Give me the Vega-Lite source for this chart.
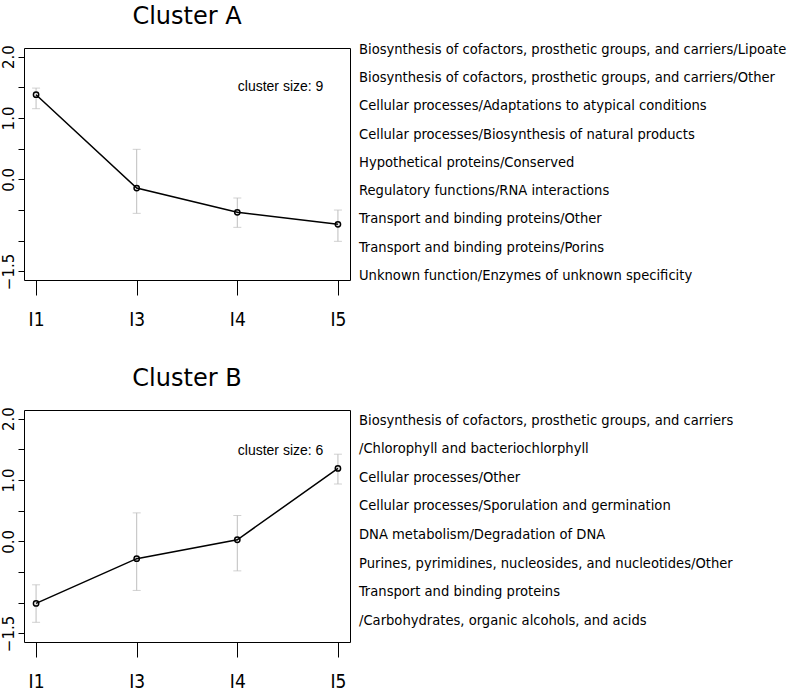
{
  "$schema": "https://vega.github.io/schema/vega-lite/v6.json",
  "background": "white",
  "padding": {"left": 0, "top": 4, "right": 0, "bottom": 0},
  "config": {
    "view": {"stroke": "black", "strokeWidth": 1},
    "font": "DejaVu Sans"
  },
  "datasets": {
    "series": [
      {"cluster": "A", "cond": "I1", "idx": 1, "mean": 1.379, "lo": 1.151, "hi": 1.487},
      {"cluster": "A", "cond": "I3", "idx": 2, "mean": -0.142, "lo": -0.554, "hi": 0.489},
      {"cluster": "A", "cond": "I4", "idx": 3, "mean": -0.537, "lo": -0.782, "hi": -0.304},
      {"cluster": "A", "cond": "I5", "idx": 4, "mean": -0.733, "lo": -1.01, "hi": -0.5},
      {"cluster": "B", "cond": "I1", "idx": 1, "mean": -1.011, "lo": -1.319, "hi": -0.708},
      {"cluster": "B", "cond": "I3", "idx": 2, "mean": -0.282, "lo": -0.8, "hi": 0.464},
      {"cluster": "B", "cond": "I4", "idx": 3, "mean": 0.026, "lo": -0.481, "hi": 0.421},
      {"cluster": "B", "cond": "I5", "idx": 4, "mean": 1.188, "lo": 0.934, "hi": 1.42}
    ],
    "notes": [
      {"cluster": "A", "label": "cluster size: 9", "x": 3.43, "y": 1.51},
      {"cluster": "B", "label": "cluster size: 6", "x": 3.43, "y": 1.47}
    ],
    "labels": [
      {"cluster": "A", "line": 0, "col": 0, "text": "Biosynthesis of cofactors, prosthetic groups, and carriers/Lipoate"},
      {"cluster": "A", "line": 1, "col": 0, "text": "Biosynthesis of cofactors, prosthetic groups, and carriers/Other"},
      {"cluster": "A", "line": 2, "col": 0, "text": "Cellular processes/Adaptations to atypical conditions"},
      {"cluster": "A", "line": 3, "col": 0, "text": "Cellular processes/Biosynthesis of natural products"},
      {"cluster": "A", "line": 4, "col": 0, "text": "Hypothetical proteins/Conserved"},
      {"cluster": "A", "line": 5, "col": 0, "text": "Regulatory functions/RNA interactions"},
      {"cluster": "A", "line": 6, "col": 0, "text": "Transport and binding proteins/Other"},
      {"cluster": "A", "line": 7, "col": 0, "text": "Transport and binding proteins/Porins"},
      {"cluster": "A", "line": 8, "col": 0, "text": "Unknown function/Enzymes of unknown specificity"},
      {"cluster": "B", "line": 0, "col": 0, "text": "Biosynthesis of cofactors, prosthetic groups, and carriers"},
      {"cluster": "B", "line": 1, "col": 0, "text": "/Chlorophyll and bacteriochlorphyll"},
      {"cluster": "B", "line": 2, "col": 0, "text": "Cellular processes/Other"},
      {"cluster": "B", "line": 3, "col": 0, "text": "Cellular processes/Sporulation and germination"},
      {"cluster": "B", "line": 4, "col": 0, "text": "DNA metabolism/Degradation of DNA"},
      {"cluster": "B", "line": 5, "col": 0, "text": "Purines, pyrimidines, nucleosides, and nucleotides/Other"},
      {"cluster": "B", "line": 6, "col": 0, "text": "Transport and binding proteins"},
      {"cluster": "B", "line": 7, "col": 0, "text": "/Carbohydrates, organic alcohols, and acids"}
    ]
  },
  "spacing": 36,
  "vconcat": [
    {
      "spacing": 8,
      "hconcat": [
        {
          "width": 326,
          "height": 232,
          "title": {"text": "Cluster A", "fontSize": 24, "fontWeight": "normal", "font": "DejaVu Sans", "offset": 16, "anchor": "middle", "color": "black"},
          "layer": [
            {
              "data": {"name": "series"},
              "transform": [{"filter": "datum.cluster == 'A'"}],
              "mark": {"type": "errorbar", "color": "#bebebe", "thickness": 1, "ticks": {"size": 8}},
              "encoding": {
                "x": {"field": "idx", "type": "quantitative", "scale": {"domain": [0.88, 4.12], "nice": false, "zero": false},
                  "axis": {"values": [1, 2, 3, 4], "tickCount": 20, "labelExpr": "['I1','I3','I4','I5'][datum.value-1]", "title": null, "domain": false, "grid": false, "tickSize": 15, "tickColor": "black", "labelPadding": 15, "labelFont": "Liberation Sans Narrow, DejaVu Sans Condensed", "labelFontSize": 19, "labelColor": "black", "labelBaseline": "top"}},
                "y": {"field": "lo", "type": "quantitative", "scale": {"domain": [-1.64, 2.14], "nice": false, "zero": false},
                  "axis": {"values": [-1.5, -1, -0.5, 0, 0.5, 1, 1.5, 2], "tickCount": 20, "labelExpr": "datum.value == 2 ? '2.0' : datum.value == 1 ? '1.0' : datum.value == 0 ? '0.0' : datum.value == -1.5 ? '\u22121.5' : ''", "title": null, "domain": false, "grid": false, "tickSize": 6, "tickColor": "black", "labelAngle": 270, "labelAlign": "center", "labelBaseline": "bottom", "labelPadding": 2, "labelFont": "DejaVu Sans", "labelFontSize": 15, "labelColor": "black", "labelOverlap": false, "labelFlush": false}},
                "y2": {"field": "hi"}
              }
            },
            {
              "data": {"name": "series"},
              "transform": [{"filter": "datum.cluster == 'A'"}],
              "mark": {"type": "line", "color": "black", "strokeWidth": 1.5},
              "encoding": {
                "x": {"field": "idx", "type": "quantitative"},
                "y": {"field": "mean", "type": "quantitative"}
              }
            },
            {
              "data": {"name": "series"},
              "transform": [{"filter": "datum.cluster == 'A'"}],
              "mark": {"type": "point", "shape": "circle", "filled": false, "color": "black", "size": 28, "strokeWidth": 1.5, "opacity": 1},
              "encoding": {
                "x": {"field": "idx", "type": "quantitative"},
                "y": {"field": "mean", "type": "quantitative"}
              }
            },
            {
              "data": {"name": "notes"},
              "transform": [{"filter": "datum.cluster == 'A'"}],
              "mark": {"type": "text", "font": "Liberation Sans", "fontSize": 14, "color": "black"},
              "encoding": {
                "x": {"field": "x", "type": "quantitative"},
                "y": {"field": "y", "type": "quantitative"},
                "text": {"field": "label"}
              }
            }
          ]
        },
        {
          "width": 420,
          "height": 232,
          "view": {"stroke": null},
          "data": {"name": "labels"},
          "transform": [{"filter": "datum.cluster == 'A'"}],
          "mark": {"type": "text", "align": "left", "baseline": "alphabetic", "font": "DejaVu Sans Condensed", "fontSize": 14.6, "color": "black"},
          "encoding": {
            "x": {"field": "col", "type": "quantitative", "scale": {"domain": [0, 1]}, "axis": null},
            "y": {"field": "line", "type": "quantitative", "scale": {"domain": [-0.212, 8.0], "reverse": true, "nice": false, "zero": false}, "axis": null},
            "text": {"field": "text"}
          }
        }
      ]
    },
    {
      "spacing": 8,
      "hconcat": [
        {
          "width": 326,
          "height": 232,
          "title": {"text": "Cluster B", "fontSize": 24, "fontWeight": "normal", "font": "DejaVu Sans", "offset": 16, "anchor": "middle", "color": "black"},
          "layer": [
            {
              "data": {"name": "series"},
              "transform": [{"filter": "datum.cluster == 'B'"}],
              "mark": {"type": "errorbar", "color": "#bebebe", "thickness": 1, "ticks": {"size": 8}},
              "encoding": {
                "x": {"field": "idx", "type": "quantitative", "scale": {"domain": [0.88, 4.12], "nice": false, "zero": false},
                  "axis": {"values": [1, 2, 3, 4], "tickCount": 20, "labelExpr": "['I1','I3','I4','I5'][datum.value-1]", "title": null, "domain": false, "grid": false, "tickSize": 15, "tickColor": "black", "labelPadding": 15, "labelFont": "Liberation Sans Narrow, DejaVu Sans Condensed", "labelFontSize": 19, "labelColor": "black", "labelBaseline": "top"}},
                "y": {"field": "lo", "type": "quantitative", "scale": {"domain": [-1.64, 2.14], "nice": false, "zero": false},
                  "axis": {"values": [-1.5, -1, -0.5, 0, 0.5, 1, 1.5, 2], "tickCount": 20, "labelExpr": "datum.value == 2 ? '2.0' : datum.value == 1 ? '1.0' : datum.value == 0 ? '0.0' : datum.value == -1.5 ? '\u22121.5' : ''", "title": null, "domain": false, "grid": false, "tickSize": 6, "tickColor": "black", "labelAngle": 270, "labelAlign": "center", "labelBaseline": "bottom", "labelPadding": 2, "labelFont": "DejaVu Sans", "labelFontSize": 15, "labelColor": "black", "labelOverlap": false, "labelFlush": false}},
                "y2": {"field": "hi"}
              }
            },
            {
              "data": {"name": "series"},
              "transform": [{"filter": "datum.cluster == 'B'"}],
              "mark": {"type": "line", "color": "black", "strokeWidth": 1.5},
              "encoding": {
                "x": {"field": "idx", "type": "quantitative"},
                "y": {"field": "mean", "type": "quantitative"}
              }
            },
            {
              "data": {"name": "series"},
              "transform": [{"filter": "datum.cluster == 'B'"}],
              "mark": {"type": "point", "shape": "circle", "filled": false, "color": "black", "size": 28, "strokeWidth": 1.5, "opacity": 1},
              "encoding": {
                "x": {"field": "idx", "type": "quantitative"},
                "y": {"field": "mean", "type": "quantitative"}
              }
            },
            {
              "data": {"name": "notes"},
              "transform": [{"filter": "datum.cluster == 'B'"}],
              "mark": {"type": "text", "font": "Liberation Sans", "fontSize": 14, "color": "black"},
              "encoding": {
                "x": {"field": "x", "type": "quantitative"},
                "y": {"field": "y", "type": "quantitative"},
                "text": {"field": "label"}
              }
            }
          ]
        },
        {
          "width": 420,
          "height": 232,
          "view": {"stroke": null},
          "data": {"name": "labels"},
          "transform": [{"filter": "datum.cluster == 'B'"}],
          "mark": {"type": "text", "align": "left", "baseline": "alphabetic", "font": "DejaVu Sans Condensed", "fontSize": 14.6, "color": "black"},
          "encoding": {
            "x": {"field": "col", "type": "quantitative", "scale": {"domain": [0, 1]}, "axis": null},
            "y": {"field": "line", "type": "quantitative", "scale": {"domain": [-0.514, 7.598], "reverse": true, "nice": false, "zero": false}, "axis": null},
            "text": {"field": "text"}
          }
        }
      ]
    }
  ]
}
